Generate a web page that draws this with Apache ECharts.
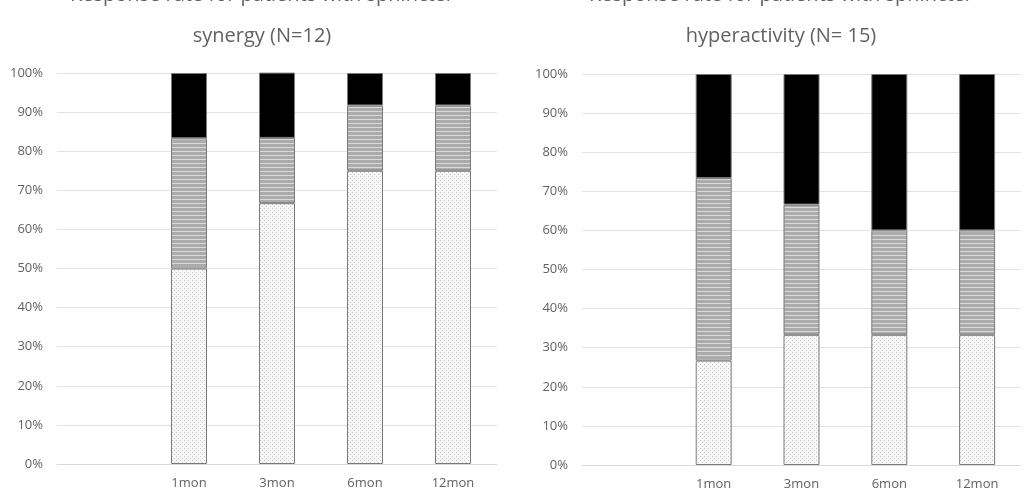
<!DOCTYPE html>
<html><head><meta charset="utf-8">
<script src="https://cdn.jsdelivr.net/npm/echarts@6/dist/echarts.min.js"></script>
<style>html,body{margin:0;padding:0;background:#fff}#c{width:1030px;height:493px}</style>
</head><body><div id="c"></div>
<script>
const categories = ['', '1mon', '3mon', '6mon', '12mon'];
const yTicks = [0,10,20,30,40,50,60,70,80,90,100];
// Sphincter synergy (N=12), percent
const synergyLow  = [null, 50.0, 66.7, 75.0, 75.0];
const synergyMid  = [null, 33.3, 16.7, 16.7, 16.7];
const synergyHigh = [null, 16.7, 16.7, 8.3, 8.3];
// Sphincter hyperactivity (N=15), percent
const hyperLow  = [null, 26.7, 33.3, 33.3, 33.3];
const hyperMid  = [null, 46.7, 33.3, 26.7, 26.7];
const hyperHigh = [null, 26.6, 33.4, 40.0, 40.0];
const titles = [
  'Response rate for patients with sphincter\nsynergy (N=12)',
  'Response rate for patients with sphincter\nhyperactivity (N= 15)'
];

function makePattern(type){
  const c = document.createElement('canvas');
  if(type==='dots'){
    c.width=4;c.height=4;const g=c.getContext('2d');
    g.fillStyle='#f7f7f7';g.fillRect(0,0,4,4);
    g.fillStyle='#c8c8c8';g.fillRect(0,0,1,1);g.fillRect(2,2,1,1);
  } else {
    c.width=4;c.height=4;const g=c.getContext('2d');
    g.fillStyle='#ababab';g.fillRect(0,0,4,4);
    g.fillStyle='#dadada';g.fillRect(0,3,4,1);
  }
  return {image:c, repeat:'repeat'};
}
const dots = makePattern('dots');
const stripes = makePattern('stripes');
const border = '#7a7a7a';

const chart = echarts.init(document.getElementById('c'));
const txt = '#626262';
const grids = [{left:57,width:440,top:73,bottom:29},{left:582,width:439,top:74,bottom:28}];
const panels = [[synergyLow,synergyMid,synergyHigh],[hyperLow,hyperMid,hyperHigh]];
const centers = [257, 776];
const option = {
  animation:false,
  title: titles.map((t,i)=>({
    text:t, left:centers[i], top:-30, textAlign:'center',
    textStyle:{fontFamily:'Open Sans',fontSize:20,fontWeight:'normal',color:txt,lineHeight:41}
  })),
  grid: grids,
  xAxis: grids.map((g,i)=>({
    type:'category', gridIndex:i, data:categories,
    axisLine:{lineStyle:{color:'#d9d9d9'}}, axisTick:{show:false},
    axisLabel:{color:txt,fontFamily:'Open Sans',fontSize:13,margin:13}
  })),
  yAxis: grids.map((g,i)=>({
    type:'value', gridIndex:i, min:0, max:100, interval:10,
    axisLabel:{formatter:'{value}%',color:txt,fontFamily:'Open Sans',fontSize:13,margin:14},
    splitLine:{lineStyle:{color:'#e3e3e3'}}, axisLine:{show:false}, axisTick:{show:false}
  })),
  series: []
};
panels.forEach((p,i)=>{
  const fills=[dots,stripes,'#000'];
  p.forEach((d,k)=>{
    option.series.push({
      type:'bar', stack:'s'+i, xAxisIndex:i, yAxisIndex:i, data:d, barWidth:36,
      itemStyle:{color:fills[k], borderColor:border, borderWidth:1}
    });
  });
});
chart.setOption(option);
</script></body></html>
